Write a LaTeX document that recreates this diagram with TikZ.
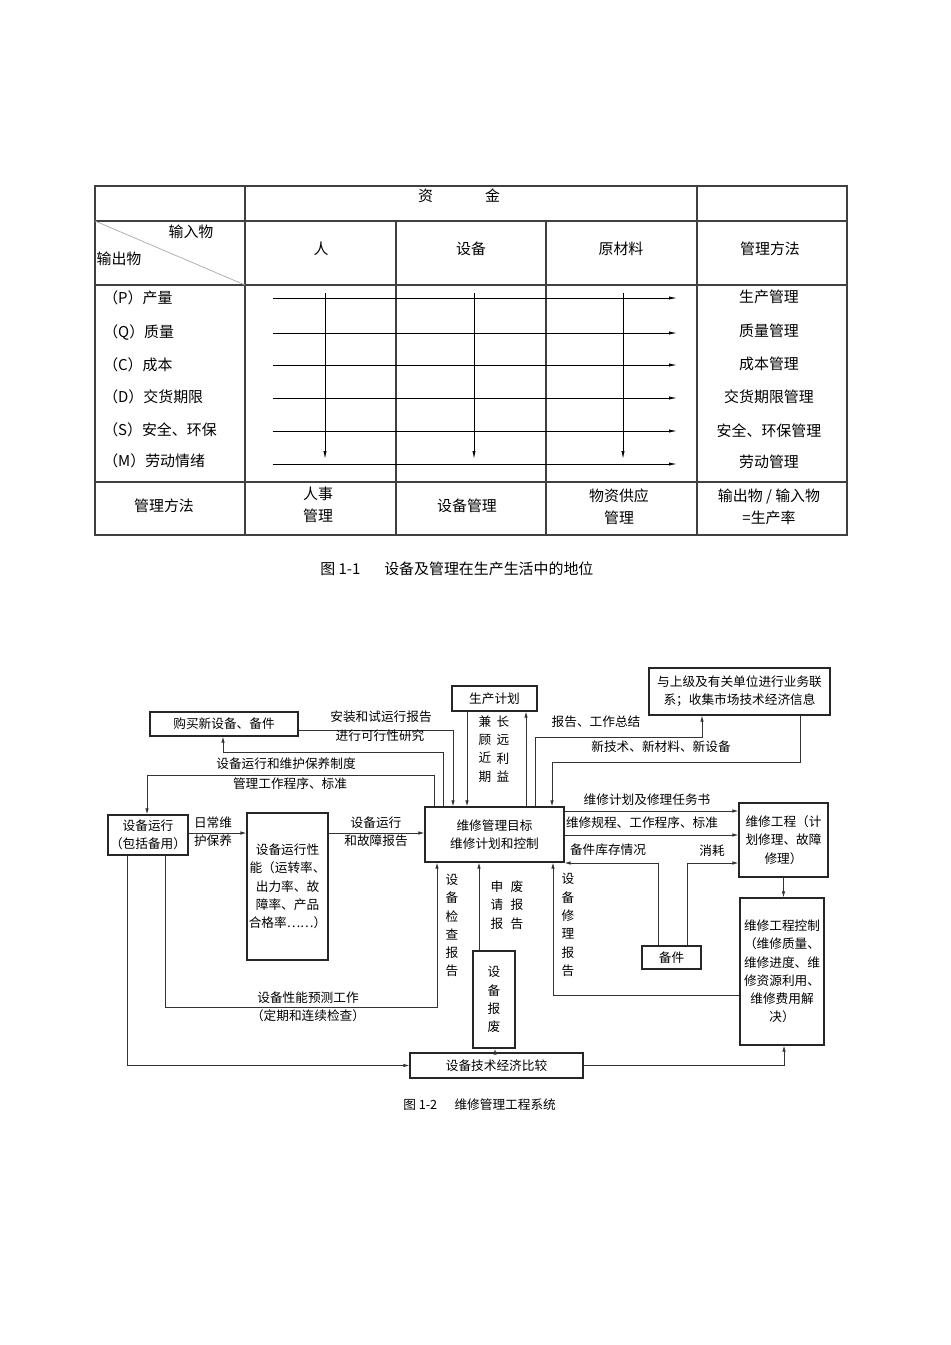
\documentclass[tikz,border=0pt]{standalone}
\usepackage{fontspec}
\setmainfont{Noto Sans CJK SC}
\usetikzlibrary{arrows.meta}
\newcommand{\tabfont}{\fontsize{11.2pt}{16.5pt}\selectfont}
\newcommand{\figfont}{\fontsize{9.5pt}{13.7pt}\selectfont}

\begin{document}
\begin{tikzpicture}[x=0.75pt,y=-0.75pt,
  tline/.style={draw=black!75, line width=1.1pt},
  tarr/.style={-{Latex[length=6pt,width=2.4pt]}, line width=0.6pt},
  box/.style={draw=black!85, line width=0.8pt, inner sep=0pt, align=center, font=\figfont},
  arr/.style={-{Latex[length=4.5pt,width=2.6pt]}, line width=0.65pt, draw=black!80},
  lbl/.style={inner sep=0pt, align=center, font=\figfont},
  tlbl/.style={inner sep=0pt, align=center, font=\tabfont}]

\fill[white] (0,0) rectangle (950,1345);
\useasboundingbox (0,0) rectangle (950,1345);

% table: inputs and outputs
\draw[tline] (95,186) rectangle (847,535);
\draw[tline] (95,221) -- (847,221);
\draw[tline] (95,285) -- (847,285);
\draw[tline] (95,482) -- (847,482);
\draw[tline] (245,186) -- (245,535);
\draw[tline] (697,186) -- (697,535);
\draw[tline] (396,221) -- (396,535);
\draw[tline] (546,221) -- (546,535);
\draw[black!35, line width=0.5pt] (95,221) -- (245,285);

\draw[tarr] (273,298) -- (677,298);
\draw[tarr] (273,333) -- (677,333);
\draw[tarr] (273,365) -- (677,365);
\draw[tarr] (273,398) -- (677,398);
\draw[tarr] (273,431) -- (677,431);
\draw[tarr] (273,464) -- (677,464);
\draw[tarr] (325,293) -- (325,459);
\draw[tarr] (474,293) -- (474,459);
\draw[tarr] (623,293) -- (623,459);

\node[tlbl] (fund) at (459,196) {资\hspace{39pt}金};
\node[tlbl] (inp) at (191,232) {输入物};
\node[tlbl] (outp) at (119,259) {输出物};
\node[tlbl] (colman) at (321,249) {人};
\node[tlbl] (colequip) at (471,249) {设备};
\node[tlbl] (colmat) at (621,249) {原材料};
\node[tlbl] (colmeth) at (770,249) {管理方法};

\node[tlbl, anchor=west] (rowP) at (103,298) {（P）产量};
\node[tlbl, anchor=west] (rowQ) at (103,332) {（Q）质量};
\node[tlbl, anchor=west] (rowC) at (103,365) {（C）成本};
\node[tlbl, anchor=west] (rowD) at (103,397) {（D）交货期限};
\node[tlbl, anchor=west] (rowS) at (103,430) {（S）安全、环保};
\node[tlbl, anchor=west] (rowM) at (103,461) {（M）劳动情绪};

\node[tlbl] (manP) at (769,297) {生产管理};
\node[tlbl] (manQ) at (769,331) {质量管理};
\node[tlbl] (manC) at (769,364) {成本管理};
\node[tlbl] (manD) at (769,397) {交货期限管理};
\node[tlbl] (manS) at (769,431) {安全、环保管理};
\node[tlbl] (manM) at (769,462) {劳动管理};

\node[tlbl] (botmeth) at (164,506) {管理方法};
\node[tlbl] (botman) at (318,505) {人事\\管理};
\node[tlbl] (botequip) at (467,506) {设备管理};
\node[tlbl] (botmat) at (619,507) {物资供应\\管理};
\node[tlbl] (botrate) at (769,507) {输出物 / 输入物\\=生产率};

\node[tlbl, anchor=west] (capone) at (320,569) {图 1-1\hspace{18pt}设备及管理在生产生活中的地位};

% maintenance system boxes
\node[box, minimum width=111pt, minimum height=18pt] (buy) at (224,724) {购买新设备、备件};
\node[box, minimum width=63.75pt, minimum height=18.75pt] (plan) at (494.5,698.5) {生产计划};
\node[box, minimum width=135.75pt, minimum height=35.25pt] (info) at (739.5,691.5) {与上级及有关单位进行业务联\\系；收集市场技术经济信息};
\node[box, minimum width=60pt, minimum height=30pt] (run) at (148,835) {设备运行\\（包括备用）};
\node[box, minimum width=60.75pt, minimum height=110.25pt] (perf) at (287.5,886.5) {设备运行性\\能（运转率、\\出力率、故\\障率、产品\\合格率……）};
\node[box, minimum width=104.25pt, minimum height=41.25pt] (main) at (494.5,834.5) {维修管理目标\\维修计划和控制};
\node[box, minimum width=66.75pt, minimum height=55.5pt] (proj) at (783.5,840) {维修工程（计\\划修理、故障\\修理）};
\node[box, minimum width=63pt, minimum height=110.25pt] (ctrl) at (782,971.5) {维修工程控制\\（维修质量、\\维修进度、维\\修资源利用、\\维修费用解\\决）};
\node[box, minimum width=44.25pt, minimum height=17.25pt] (spare) at (671.5,957.5) {备件};
\node[box, minimum width=31.5pt, minimum height=72.75pt] (scrap) at (494,999.5) {设\\备\\报\\废};
\node[box, minimum width=129.75pt, minimum height=18.75pt] (comp) at (496.5,1065.5) {设备技术经济比较};

% bends
\coordinate (kbuy) at (453,730);
\coordinate (kbuyb) at (443,752);
\coordinate (kbuyc) at (223,752);
\coordinate (krun) at (434,775);
\coordinate (krunb) at (147,775);
\coordinate (kpd) at (467,750);
\coordinate (kpu) at (526,750);
\coordinate (krep) at (535,737);
\coordinate (krepb) at (702,737);
\coordinate (knew) at (800,762);
\coordinate (knewb) at (552,762);
\coordinate (kt1) at (600,811);
\coordinate (kt2) at (600,835);
\coordinate (kday) at (220,833);
\coordinate (ksa) at (658,863);
\coordinate (ksb) at (687,863);
\coordinate (kfix) at (553,995);
\coordinate (ksc) at (479,900);
\coordinate (kchk) at (165,1007);
\coordinate (kchkb) at (437,1007);
\coordinate (keco) at (127,1065.5);
\coordinate (kup) at (495,1050);
\coordinate (kend) at (784,1065.5);

% connectors
\draw[arr] (run.east |- kday) -- (perf.west |- kday);
\draw[arr] (perf.east |- kday) -- (main.west |- kday);
\draw[arr] (buy.east |- kbuy) -- (kbuy) -- (kbuy |- main.north);
\draw[arr] (main.north -| kbuyb) -- (kbuyb) -- (kbuyc) -- (kbuyc |- buy.south);
\draw[arr] (main.north -| krun) -- (krun) -- (krunb) -- (krunb |- run.north);
\draw[arr] (plan.south -| kpd) -- (main.north -| kpd);
\draw[arr] (main.north -| kpu) -- (plan.south -| kpu);
\draw[arr] (main.north -| krep) -- (krep) -- (krepb) -- (krepb |- info.south);
\draw[arr] (info.south -| knew) -- (knew) -- (knewb) -- (knewb |- main.north);
\draw[arr] (main.east |- kt1) -- (proj.west |- kt1);
\draw[arr] (main.east |- kt2) -- (proj.west |- kt2);
\draw[arr] (spare.north -| ksa) -- (ksa) -- (main.east |- ksa);
\draw[arr] (spare.north -| ksb) -- (ksb) -- (proj.west |- ksb);
\draw[arr] (proj.south) -- (proj.south |- ctrl.north);
\draw[arr] (ctrl.west |- kfix) -- (kfix) -- (kfix |- main.south);
\draw[arr] (scrap.north -| ksc) -- (main.south -| ksc);
\draw[arr] (run.south -| kchk) -- (kchk) -- (kchkb) -- (kchkb |- main.south);
\draw[arr] (run.south -| keco) -- (keco) -- (comp.west);
\draw[arr] (comp.north -| kup) -- (scrap.south -| kup);
\draw[arr] (comp.east) -- (kend) -- (kend |- ctrl.south);

% connector labels
\node[lbl] (ldaily) at (213,832) {日常维\\护保养};
\node[lbl] (lrunrep) at (376,832) {设备运行\\和故障报告};
\node[lbl] (linst) at (381,717) {安装和试运行报告};
\node[lbl] (lfeas) at (380,736) {进行可行性研究};
\node[lbl] (lrule) at (286,764) {设备运行和维护保养制度};
\node[lbl] (lproc) at (290,784) {管理工作程序、标准};
\node[lbl] (lnear) at (485,749) {兼\\顾\\近\\期};
\node[lbl] (lfar) at (503,749) {长\\远\\利\\益};
\node[lbl] (lsum) at (596,722) {报告、工作总结};
\node[lbl] (lnew) at (661,747) {新技术、新材料、新设备};
\node[lbl] (ltask) at (647,800) {维修计划及修理任务书};
\node[lbl] (lstd) at (642,823) {维修规程、工作程序、标准};
\node[lbl] (lstock) at (608,850) {备件库存情况};
\node[lbl] (luse) at (712,851) {消耗};
\node[lbl] (lfixrep) at (568,925) {设\\备\\修\\理\\报\\告};
\node[lbl] (lapply) at (497,905) {申\\请\\报};
\node[lbl] (lscraprep) at (517,905) {废\\报\\告};
\node[lbl] (lpred) at (308,998) {设备性能预测工作};
\node[lbl] (lperiod) at (308,1016) {（定期和连续检查）};
\node[lbl] (lchk) at (452,925.5) {设\\备\\检\\查\\报\\告};

\node[lbl, anchor=west] (captwo) at (403,1105) {图 1-2\hspace{13pt}维修管理工程系统};

\end{tikzpicture}
\end{document}
